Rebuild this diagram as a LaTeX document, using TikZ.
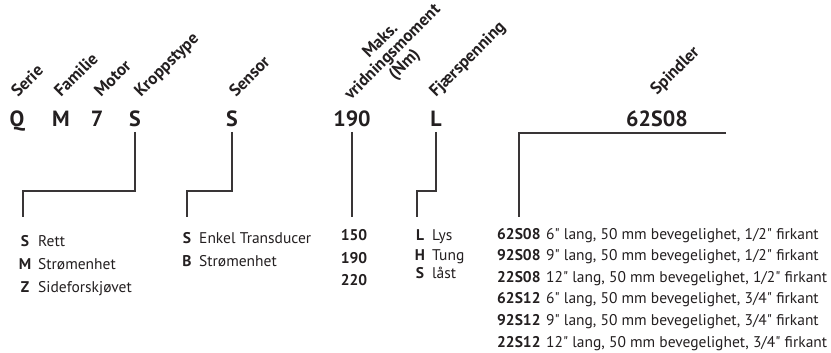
\documentclass[tikz,border=0pt]{standalone}
\usepackage{fontspec}
\setmainfont{PT Sans}
\usetikzlibrary{positioning}
\definecolor{ink}{RGB}{35,31,32}
\tikzset{
  code/.style={font=\fontsize{22}{24}\selectfont\bfseries, text=ink, inner sep=0pt, anchor=base},
  tag/.style={font=\fontsize{17}{17}\selectfont\bfseries, text=ink, inner sep=0pt, anchor=base west, rotate=45},
  key/.style={font=\fontsize{15.5}{17}\selectfont\bfseries, text=ink, inner sep=0pt, anchor=base},
  desc/.style={font=\fontsize{15.5}{17}\selectfont, text=ink, inner sep=0pt, anchor=base west},
  link/.style={draw=ink!90, line width=1.6pt},
}
\newcommand{\inch}{\textquotedbl}
\begin{document}
\begin{tikzpicture}[x=1pt,y=-1pt]
    \useasboundingbox (0,0) rectangle (831,353);
    % the type code
    \node[code] (serie)  at (17,127)  {Q};
    \node[code] (fam)    at (61,127)  {M};
    \node[code] (motor)  at (97,127)  {7};
    \node[code] (kropp)  at (135,127) {S};
    \node[code] (sensor) at (232,127) {S};
    \node[code] (moment) at (352,127) {190};
    \node[code] (fjaer)  at (436,127) {L};
    \node[code] (spindel) at (657,127) {62S08};
    % what each part means
    \node[tag] (tSerie)  at (18,98)  {Serie};
    \node[tag] (tFam)    at (61,98)  {Familie};
    \node[tag] (tMotor)  at (101,98) {Motor};
    \node[tag] (tKropp)  at (141,98) {Kroppstype};
    \node[tag] (tSensor) at (236,98) {Sensor};
    \node[tag,anchor=center,align=center] (tMoment) at (393,53)
      {Maks.\\vridningsmoment\\(Nm)};
    \node[tag] (tFjaer)  at (436,98) {Fjærspenning};
    \node[tag] (tSpindel) at (657,96) {Spindler};
    % options below each part
    \node[key]  (kS) at (25,246) {S};
    \node[desc] (dS) at (38,246) {Rett};
    \node[key]  (kM) at (25,269) {M};
    \node[desc] (dM) at (38,269) {Strømenhet};
    \node[key]  (kZ) at (25,292) {Z};
    \node[desc] (dZ) at (38,292) {Sideforskjøvet};
    \node[key]  (sS) at (187,243) {S};
    \node[desc] (sdS) at (199,243) {Enkel Transducer};
    \node[key]  (sB) at (187,266) {B};
    \node[desc] (sdB) at (199,266) {Strømenhet};
    \node[key]  (m150) at (354,240) {150};
    \node[key]  (m190) at (354,263) {190};
    \node[key]  (m220) at (354,285) {220};
    \node[key]  (fL) at (420,240) {L};
    \node[desc] (fdL) at (432,240) {Lys};
    \node[key]  (fH) at (420,260) {H};
    \node[desc] (fdH) at (432,260) {Tung};
    \node[key]  (fS) at (420,278) {S};
    \node[desc] (fdS) at (432,278) {låst};
    \foreach \k/\d/\y [count=\i] in {
        62S08/{6\inch{} lang, 50 mm bevegelighet, 1/2\inch{} firkant}/239,
        92S08/{9\inch{} lang, 50 mm bevegelighet, 1/2\inch{} firkant}/260,
        22S08/{12\inch{} lang, 50 mm bevegelighet, 1/2\inch{} firkant}/282,
        62S12/{6\inch{} lang, 50 mm bevegelighet, 3/4\inch{} firkant}/303,
        92S12/{9\inch{} lang, 50 mm bevegelighet, 3/4\inch{} firkant}/325,
        22S12/{12\inch{} lang, 50 mm bevegelighet, 3/4\inch{} firkant}/347}{
      \node[key,anchor=base west] (sp\i) at (497,\y) {\k};
      \node[desc] (spd\i) at (546,\y) {\d};
    }
    % connectors
    \coordinate (kroppEnd)  at (23,217);
    \coordinate (sensorEnd) at (187,217);
    \coordinate (momentEnd) at (352,217);
    \coordinate (fjaerEnd)  at (417,217);
    \coordinate (spindelR)  at (726,133);
    \coordinate (spindelEnd) at (519,217);
    \draw[link] ([yshift=-5pt]kropp.base) |- ([yshift=26pt]kroppEnd) -- (kroppEnd);
    \draw[link] ([yshift=-5pt]sensor.base) |- ([yshift=26pt]sensorEnd) -- (sensorEnd);
    \draw[link] ([yshift=-5pt]moment.base) -- (momentEnd);
    \draw[link] ([yshift=-5pt]fjaer.base) |- ([yshift=26pt]fjaerEnd) -- (fjaerEnd);
    \draw[link] (spindelR) -| (spindelEnd);
\end{tikzpicture}
\end{document}
